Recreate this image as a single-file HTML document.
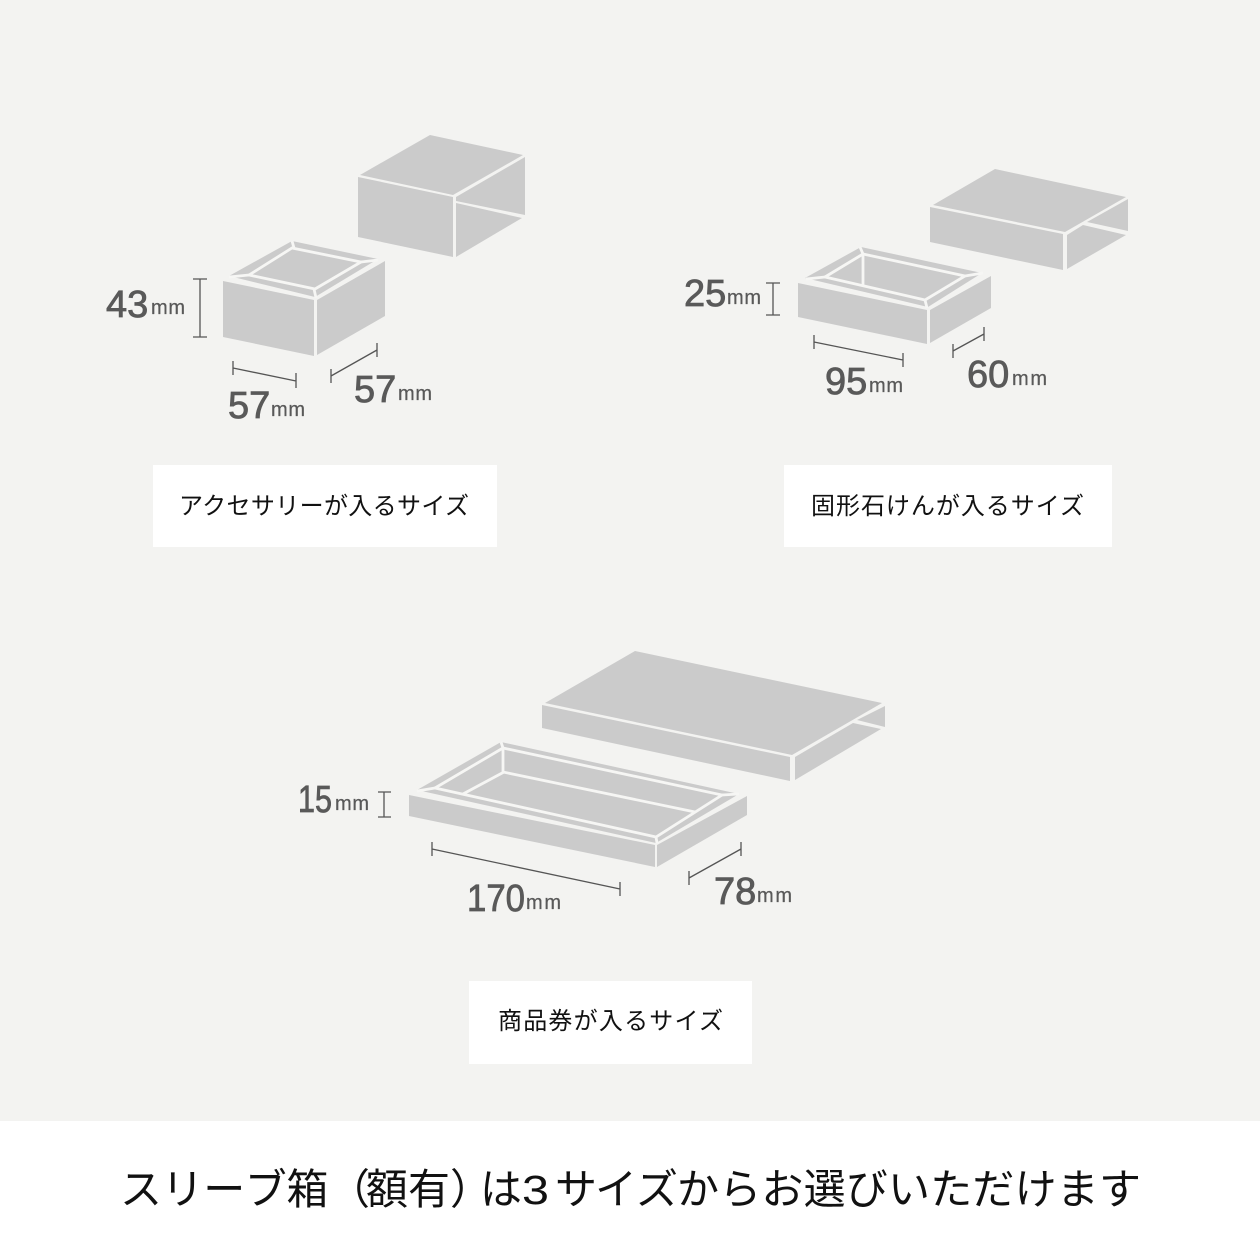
<!DOCTYPE html>
<html lang="ja"><head><meta charset="utf-8"><title>スリーブ箱</title>
<style>
html,body{margin:0;padding:0;background:#fff}
svg{display:block}
.g{fill:#cbcbcb}
.w{stroke:#f6f6f4;stroke-width:2.8;fill:none;stroke-linejoin:miter}
.d{stroke:#555;stroke-width:1.3;fill:none}
.n{font:400 38px "Liberation Sans",sans-serif;fill:#595959;stroke:#595959;stroke-width:.8}
.m{font:400 20px "Liberation Sans",sans-serif;fill:#595959;stroke:#595959;stroke-width:.25}
.j{font-family:"Liberation Sans","Noto Sans CJK JP",sans-serif;fill:#111}
</style></head><body>
<svg xmlns="http://www.w3.org/2000/svg" width="1260" height="1260" viewBox="0 0 1260 1260">
<rect width="1260" height="1121" fill="#f3f3f1"/>
<rect y="1121" width="1260" height="139" fill="#fff"/>

<!-- Box 1 sleeve -->
<polygon class="g" points="430,135 523,155 453,195 360,175"/>
<polygon class="g" points="358,177 453,197 453,257 358,237"/>
<polygon class="g" points="456,197 525,157 525,215 456,201"/>
<polygon class="g" points="456,203 522,218 456,257"/>
<!-- Box 1 base -->
<polygon class="g" points="229,276 292,241 378,259 315,297"/>
<polygon class="g" points="223,281 314,300 314,356 223,337"/>
<polygon class="g" points="317,300 385,261 385,316 317,355"/>
<polygon class="w" points="249,275 292,248 361,262 315,289"/>
<path class="w" d="M229,277 L249,275 M292,241 L294,248 M378,260 L361,262 M316,298 L314,289"/>
<path class="d" d="M200,279V337M193,279H207M193,337H207"/>
<path class="d" d="M233,368L296,381M233,361V375M296,373V388"/>
<path class="d" d="M331,376L377,350M331,369V383M377,343V357"/>
<text class="n" x="106" y="317">43</text><text class="m" x="151" y="314" textLength="34">mm</text>
<text class="n" x="228" y="418">57</text><text class="m" x="271" y="416" textLength="34">mm</text>
<text class="n" x="354" y="402">57</text><text class="m" x="398" y="400" textLength="34">mm</text>

<!-- Box 2 sleeve -->
<polygon class="g" points="995,169 1126,197 1065,232 933,205"/>
<polygon class="g" points="930,207 1063,234 1063,270 930,242"/>
<polygon class="g" points="1087,222 1128,199 1128,231"/>
<polygon class="g" points="1067,235 1083,225 1126,235 1067,269"/>
<!-- Box 2 base -->
<polygon class="g" points="805,278 861,247 982,273 928,307"/>
<polygon class="g" points="798,283 927,310 927,344 798,317"/>
<polygon class="g" points="930,310 991,276 991,308 930,343"/>
<polygon class="w" points="825,277 863,254 965,276 925,300"/>
<path class="w" d="M806,279 L825,277 M860,247 L863,254 M983,273 L965,276 M927,308 L925,300 M863,254 V285"/>
<path class="d" d="M773,283V315M766,283H780M766,315H780"/>
<path class="d" d="M814,342L903,360M814,335V349M903,353V367"/>
<path class="d" d="M953,351L984,334M953,344V358M984,327V341"/>
<text class="n" x="684" y="306">25</text><text class="m" x="727" y="304" textLength="34">mm</text>
<text class="n" x="825" y="394">95</text><text class="m" x="869" y="392" textLength="34">mm</text>
<text class="n" x="967" y="387">60</text><text class="m" x="1012" y="385" textLength="35">mm</text>

<!-- Box 3 sleeve -->
<polygon class="g" points="635,651 882,703 792,755 545,703"/>
<polygon class="g" points="542,705 790,757 790,781 542,728"/>
<polygon class="g" points="857,720 885,706 885,727"/>
<polygon class="g" points="795,757 853,723 881,729 795,780"/>
<!-- Box 3 base -->
<polygon class="g" points="417,790 501,742 739,794 656,843"/>
<polygon class="g" points="409,795 655,845 655,867 409,816"/>
<polygon class="g" points="657,845 747,796 747,815 657,867"/>
<polygon class="w" points="435,788 503,748 722,795 656,837"/>
<path class="w" d="M417,791 L435,788 M501,742 L503,748 M739,794 L722,795 M657,843 L656,837 M503,748 V772 L695,812 M504,772 L463,794"/>
<path class="d" d="M384,792V817M378,792H391M378,817H391"/>
<path class="d" d="M432,849L620,889M432,842V856M620,882V896"/>
<path class="d" d="M689,878L741,849M689,871V885M741,842V856"/>
<text class="n" x="298" y="812" textLength="34" lengthAdjust="spacingAndGlyphs">15</text><text class="m" x="335" y="810" textLength="34">mm</text>
<text class="n" x="467" y="911" textLength="58" lengthAdjust="spacingAndGlyphs">170</text><text class="m" x="526" y="909" textLength="35">mm</text>
<text class="n" x="714" y="904">78</text><text class="m" x="757" y="902" textLength="35">mm</text>

<!-- Labels -->
<rect x="153" y="465" width="344" height="82" fill="#fff"/>
<rect x="784" y="465" width="328" height="82" fill="#fff"/>
<rect x="469" y="981" width="283" height="83" fill="#fff"/>
<text class="j" x="179" y="514" font-size="24" textLength="290" lengthAdjust="spacing">アクセサリーが入るサイズ</text>
<text class="j" x="811" y="514" font-size="24" textLength="273" lengthAdjust="spacing">固形石けんが入るサイズ</text>
<text class="j" x="498" y="1029" font-size="24" textLength="225" lengthAdjust="spacing">商品券が入るサイズ</text>
<text class="j" font-size="42" y="1204" x="120 161.6 203.2 244.8 286.4 328 366 408 450 480">スリーブ箱（額有）は</text>
<text class="j" font-size="41" y="1204" x="522" textLength="27" lengthAdjust="spacingAndGlyphs">3</text>
<text class="j" font-size="42" y="1204" x="555 595 636 677 719.2 761.4 803.6 845.8 888 930.2 972.4 1014.6 1056.8 1099">サイズからお選びいただけます</text>
</svg>
</body></html>
